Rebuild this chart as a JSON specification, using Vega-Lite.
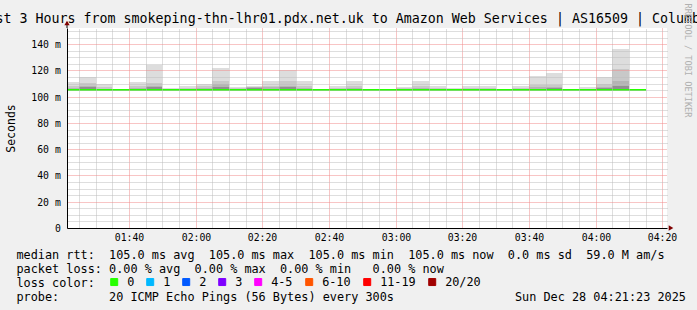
{
  "$schema": "https://vega.github.io/schema/vega-lite/v6.json",
  "width": 600,
  "height": 200,
  "autosize": {"type": "none"},
  "padding": {"left": 67, "top": 28, "right": 30, "bottom": 82},
  "background": "#f0f0f0",
  "config": {"view": {"stroke": null, "fill": "#ffffff"}, "font": "DejaVu Sans Mono"},
  "title": {
    "text": "st 3 Hours from smokeping-thn-lhr01.pdx.net.uk to Amazon Web Services | AS16509 | Columb",
    "anchor": "start", "frame": "group", "font": "DejaVu Sans Mono", "fontSize": 13.3,
    "fontWeight": "normal", "color": "#000000", "baseline": "alphabetic", "offset": 0,
    "dx": -71.5, "dy": 33, "limit": 2000
  },
  "data": {"values": [
    {"start": 80, "end": 85, "min": 105, "median": 105, "hi": 111, "a": 108, "b": 106.5, "c": 106, "loss": "0"},
    {"start": 85, "end": 90, "min": 105, "median": 105, "hi": 114.8, "a": 110.6, "b": 108.5, "c": 107.3, "loss": "0"},
    {"start": 90, "end": 95, "min": 105, "median": 105, "hi": 109.3, "a": 107, "b": 106, "c": 105.6, "loss": "0"},
    {"start": 95, "end": 100, "min": 105, "median": 105, "hi": 105, "a": 105, "b": 105, "c": 105, "loss": "0"},
    {"start": 100, "end": 105, "min": 105, "median": 105, "hi": 111, "a": 108, "b": 106.5, "c": 106, "loss": "0"},
    {"start": 105, "end": 110, "min": 105, "median": 105, "hi": 124, "a": 110.6, "b": 108.5, "c": 107.2, "loss": "0"},
    {"start": 110, "end": 115, "min": 105, "median": 105, "hi": 106.5, "a": 106, "b": 105.6, "c": 105.3, "loss": "0"},
    {"start": 115, "end": 120, "min": 105, "median": 105, "hi": 108, "a": 106.5, "b": 106, "c": 105.5, "loss": "0"},
    {"start": 120, "end": 125, "min": 105, "median": 105, "hi": 110, "a": 108, "b": 106.5, "c": 106, "loss": "0"},
    {"start": 125, "end": 130, "min": 105, "median": 105, "hi": 121.7, "a": 112, "b": 109.5, "c": 107.5, "loss": "0"},
    {"start": 130, "end": 135, "min": 105, "median": 105, "hi": 107.5, "a": 106.5, "b": 106, "c": 105.5, "loss": "0"},
    {"start": 135, "end": 140, "min": 105, "median": 105, "hi": 108.3, "a": 107.5, "b": 107.3, "c": 106.8, "loss": "0"},
    {"start": 140, "end": 145, "min": 105, "median": 105, "hi": 111.8, "a": 108, "b": 107, "c": 106, "loss": "0"},
    {"start": 145, "end": 150, "min": 105, "median": 105, "hi": 120.4, "a": 111.8, "b": 108.5, "c": 107, "loss": "0"},
    {"start": 150, "end": 155, "min": 105, "median": 105, "hi": 111.8, "a": 108, "b": 106.5, "c": 106, "loss": "0"},
    {"start": 155, "end": 160, "min": 105, "median": 105, "hi": 105, "a": 105, "b": 105, "c": 105, "loss": "0"},
    {"start": 160, "end": 165, "min": 105, "median": 105, "hi": 107.9, "a": 106.5, "b": 106, "c": 105.5, "loss": "0"},
    {"start": 165, "end": 170, "min": 105, "median": 105, "hi": 111.8, "a": 108, "b": 106.5, "c": 106, "loss": "0"},
    {"start": 170, "end": 175, "min": 105, "median": 105, "hi": 105, "a": 105, "b": 105, "c": 105, "loss": "0"},
    {"start": 175, "end": 180, "min": 105, "median": 105, "hi": 105, "a": 105, "b": 105, "c": 105, "loss": "0"},
    {"start": 180, "end": 185, "min": 105, "median": 105, "hi": 107.5, "a": 106.5, "b": 106, "c": 105.5, "loss": "0"},
    {"start": 185, "end": 190, "min": 105, "median": 105, "hi": 111.8, "a": 108, "b": 106.5, "c": 106, "loss": "0"},
    {"start": 190, "end": 195, "min": 105, "median": 105, "hi": 108, "a": 106.5, "b": 106, "c": 105.5, "loss": "0"},
    {"start": 195, "end": 200, "min": 105, "median": 105, "hi": 106.5, "a": 106, "b": 105.5, "c": 105.3, "loss": "0"},
    {"start": 200, "end": 205, "min": 105, "median": 105, "hi": 108, "a": 106.5, "b": 106, "c": 105.5, "loss": "0"},
    {"start": 205, "end": 210, "min": 105, "median": 105, "hi": 108, "a": 106.5, "b": 106, "c": 105.5, "loss": "0"},
    {"start": 210, "end": 215, "min": 105, "median": 105, "hi": 105, "a": 105, "b": 105, "c": 105, "loss": "0"},
    {"start": 215, "end": 220, "min": 105, "median": 105, "hi": 108, "a": 106.5, "b": 105.8, "c": 105.3, "loss": "0"},
    {"start": 220, "end": 225, "min": 105, "median": 105, "hi": 116.1, "a": 109, "b": 107, "c": 106, "loss": "0"},
    {"start": 225, "end": 230, "min": 105, "median": 105, "hi": 117.9, "a": 109, "b": 107.5, "c": 106.8, "loss": "0"},
    {"start": 230, "end": 235, "min": 105, "median": 105, "hi": 105, "a": 105, "b": 105, "c": 105, "loss": "0"},
    {"start": 235, "end": 240, "min": 105, "median": 105, "hi": 107, "a": 106, "b": 105.5, "c": 105.3, "loss": "0"},
    {"start": 240, "end": 245, "min": 105, "median": 105, "hi": 114.8, "a": 110, "b": 107.5, "c": 106.5, "loss": "0"},
    {"start": 245, "end": 250, "min": 105, "median": 105, "hi": 136.6, "a": 120.7, "b": 111.8, "c": 108.5, "loss": "0"},
    {"start": 250, "end": 255, "min": 105, "median": 105, "hi": 105, "a": 105, "b": 105, "c": 105, "loss": "0"}
  ]},
  "layer": [
    {
      "mark": {"type": "rect", "color": "#dddddd", "clip": true},
      "encoding": {
        "x": {"field": "start", "type": "quantitative", "scale": {"domain": [81.4, 261.4], "nice": false, "zero": false, "round": true},
          "axis": {"orient": "top", "values": [85,90,95,105,110,115,125,130,135,145,150,155,165,170,175,185,190,195,205,210,215,225,230,235,245,250,255],
            "grid": true, "gridColor": "#bdbdbd", "gridDash": [1, 1], "gridWidth": 1, "gridOpacity": 1, "labels": false, "ticks": false, "domain": false, "title": null, "zindex": 1}},
        "x2": {"field": "end"},
        "y": {"field": "hi", "type": "quantitative", "scale": {"domain": [0, 152.3], "nice": false, "zero": false, "round": true},
          "axis": {"orient": "right", "values": [5,10,15,25,30,35,45,50,55,65,70,75,85,90,95,105,110,115,125,130,135,145,150],
            "grid": true, "gridColor": "#bdbdbd", "gridDash": [1, 1], "gridWidth": 1, "gridOpacity": 1, "labels": false, "ticks": false, "domain": false,
            "title": "RRDTOOL / TOBI OETIKER", "titleAngle": 90, "titleFont": "DejaVu Sans Mono", "titleFontSize": 8.6, "titleFontWeight": "normal",
            "titleColor": "#b0b0b0", "titleX": 20, "titleY": 32, "titleAlign": "center", "titleBaseline": "middle", "zindex": 1}},
        "y2": {"field": "min"}
      }
    },
    {
      "mark": {"type": "rect", "color": "#c8c8c8", "clip": true},
      "encoding": {
        "x": {"field": "start", "type": "quantitative", "scale": {"domain": [81.4, 261.4], "nice": false, "zero": false, "round": true},
          "axis": {"orient": "bottom", "values": [100,120,140,160,180,200,220,240,260],
            "grid": true, "gridColor": "#f08a8a", "gridDash": [1, 1], "gridWidth": 1, "gridOpacity": 1,
            "labels": true, "labelExpr": "utcFormat(datum.value * 60000, '%H:%M')", "labelFont": "DejaVu Sans Mono", "labelFontSize": 9.8,
            "labelColor": "#000000", "labelPadding": 4, "labelFlush": false, "labelOverlap": false,
            "ticks": false, "domain": true, "domainColor": "#000000", "domainWidth": 1,
            "title": [
              "median rtt:\u00a0\u00a0105.0 ms avg\u00a0\u00a0105.0 ms max\u00a0\u00a0105.0 ms min\u00a0\u00a0105.0 ms now\u00a0\u00a00.0 ms sd\u00a0\u00a059.0 M am/s",
              "packet loss: 0.00 % avg\u00a0\u00a00.00 % max\u00a0\u00a00.00 % min\u00a0\u00a0\u00a00.00 % now",
              "loss color:",
              "probe:\u00a0\u00a0\u00a0\u00a0\u00a0\u00a0\u00a020 ICMP Echo Pings (56 Bytes) every 300s\u00a0\u00a0\u00a0\u00a0\u00a0\u00a0\u00a0\u00a0\u00a0\u00a0\u00a0\u00a0\u00a0\u00a0\u00a0\u00a0\u00a0Sun Dec 28 04:21:23 2025"
            ],
            "titleFont": "DejaVu Sans Mono", "titleFontSize": 11.83, "titleFontWeight": "normal", "titleColor": "#000000",
            "titleAlign": "left", "titleAnchor": "start", "titleBaseline": "alphabetic", "titleX": -51, "titleY": 30,
            "titleLineHeight": 14, "titleLimit": 2000, "zindex": 1}},
        "x2": {"field": "end"},
        "y": {"field": "a", "type": "quantitative", "scale": {"domain": [0, 152.3], "nice": false, "zero": false, "round": true},
          "axis": {"orient": "left", "values": [0,20,40,60,80,100,120,140],
            "grid": true, "gridColor": "#f08a8a", "gridDash": [1, 1], "gridWidth": 1, "gridOpacity": 1,
            "labelExpr": "datum.value == 0 ? '0\u00a0\u00a0' : datum.value + ' m'", "labelFont": "DejaVu Sans Mono", "labelFontSize": 9.8,
            "labelColor": "#000000", "labelPadding": 6.7, "labelFlush": false, "labelOverlap": false,
            "ticks": false, "domain": true, "domainColor": "#000000", "domainWidth": 1,
            "title": "Seconds", "titleFont": "DejaVu Sans Mono", "titleFontSize": 11.5, "titleFontWeight": "normal", "titleColor": "#000000",
            "titleX": -56, "titleBaseline": "middle", "titleAlign": "center", "zindex": 1}},
        "y2": {"field": "min"}
      }
    },
    {
      "mark": {"type": "rect", "color": "#b4b4b4", "clip": true},
      "encoding": {
        "x": {"field": "start", "type": "quantitative", "scale": {"domain": [81.4, 261.4], "nice": false, "zero": false, "round": true}, "axis": null},
        "x2": {"field": "end"},
        "y": {"field": "b", "type": "quantitative", "scale": {"domain": [0, 152.3], "nice": false, "zero": false, "round": true}, "axis": null},
        "y2": {"field": "min"}
      }
    },
    {
      "mark": {"type": "rect", "color": "#909090", "clip": true},
      "encoding": {
        "x": {"field": "start", "type": "quantitative", "scale": {"domain": [81.4, 261.4], "nice": false, "zero": false, "round": true}, "axis": null},
        "x2": {"field": "end"},
        "y": {"field": "c", "type": "quantitative", "scale": {"domain": [0, 152.3], "nice": false, "zero": false, "round": true}, "axis": null},
        "y2": {"field": "min"}
      }
    },
    {
      "mark": {"type": "rule", "strokeWidth": 2, "strokeCap": "butt", "clip": true},
      "encoding": {
        "x": {"field": "start", "type": "quantitative", "scale": {"domain": [81.4, 261.4], "nice": false, "zero": false, "round": true}, "axis": null},
        "x2": {"field": "end"},
        "y": {"field": "median", "type": "quantitative", "scale": {"domain": [0, 152.3], "nice": false, "zero": false, "round": true}, "axis": null},
        "color": {"field": "loss", "type": "nominal",
          "scale": {"domain": ["0", "1", "2", "3", "4-5", "6-10", "11-19", "20/20"],
            "range": ["#26ff00", "#00b8ff", "#0059ff", "#7e00ff", "#ff00fe", "#ff5500", "#ff0000", "#a10000"]},
          "legend": {"orient": "none", "legendX": 41.3, "legendY": 248, "direction": "horizontal", "columns": 8, "title": null,
            "symbolType": "square", "symbolSize": 49, "symbolStrokeWidth": 1, "labelFont": "DejaVu Sans Mono", "labelFontSize": 11.83,
            "labelColor": "#000000", "labelOffset": 7, "columnPadding": 10, "padding": 0, "labelLimit": 200,
            "encode": {"symbols": {"update": {"fill": {"scale": "color", "field": "value"}, "stroke": {"value": "#000000"}, "strokeWidth": {"value": 1}, "opacity": {"value": 1}}}}}}
      }
    },
    {
      "data": {"values": [{}]},
      "mark": {"type": "rule", "color": "#000000", "strokeWidth": 1, "clip": false},
      "encoding": {
        "x": {"datum": 81.4, "type": "quantitative", "scale": {"domain": [81.4, 261.4], "nice": false, "zero": false, "round": true}, "axis": null},
        "y": {"datum": 152.3, "type": "quantitative", "scale": {"domain": [0, 152.3], "nice": false, "zero": false, "round": true}, "axis": null},
        "y2": {"datum": 156.5}
      }
    },
    {
      "data": {"values": [{}]},
      "mark": {"type": "point", "shape": "triangle-up", "filled": true, "color": "#7f0000", "size": 28, "opacity": 1, "clip": false},
      "encoding": {
        "x": {"datum": 81.4, "type": "quantitative", "scale": {"domain": [81.4, 261.4], "nice": false, "zero": false, "round": true}, "axis": null},
        "y": {"datum": 156.3, "type": "quantitative", "scale": {"domain": [0, 152.3], "nice": false, "zero": false, "round": true}, "axis": null}
      }
    },
    {
      "data": {"values": [{}]},
      "mark": {"type": "point", "shape": "triangle-right", "filled": true, "color": "#7f0000", "size": 28, "opacity": 1, "clip": false},
      "encoding": {
        "x": {"datum": 262.7, "type": "quantitative", "scale": {"domain": [81.4, 261.4], "nice": false, "zero": false, "round": true}, "axis": null},
        "y": {"datum": 0, "type": "quantitative", "scale": {"domain": [0, 152.3], "nice": false, "zero": false, "round": true}, "axis": null}
      }
    }
  ],
  "resolve": {"axis": {"x": "independent", "y": "independent"}}
}
